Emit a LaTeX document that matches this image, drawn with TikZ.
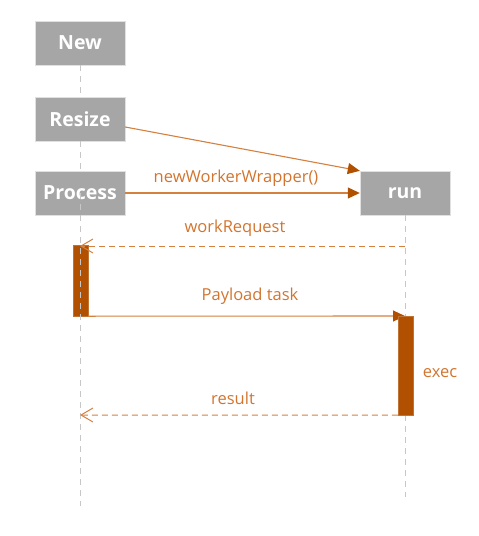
\documentclass[tikz,border=0pt]{standalone}
\usepackage{fontspec}
\setmainfont{Open Sans}
\usetikzlibrary{arrows.meta}
\definecolor{boxgrey}{HTML}{A6A6A6}
\definecolor{msgline}{HTML}{D4803F}
\definecolor{msgtext}{HTML}{D2742E}
\definecolor{actbar}{HTML}{B05000}
\begin{document}
\begin{tikzpicture}[x=1pt,y=-1pt]
        \tikzstyle{actor}=[fill=boxgrey,draw=black!12,text=white,font=\bfseries\fontsize{19.5}{22}\selectfont,minimum width=90pt,minimum height=44pt,inner sep=0pt]
        \tikzstyle{label}=[text=msgtext,font=\fontsize{16.5}{19}\selectfont,inner sep=0pt]
        \tikzstyle{life}=[draw=black!22,line width=1pt,dash pattern=on 6pt off 5pt]
        \tikzstyle{call}=[draw=msgline,line width=1.1pt,-{Triangle[length=12pt,width=11pt,color=actbar]}]
        \tikzstyle{reply}=[draw=msgline,line width=1pt,dash pattern=on 6pt off 4pt,-{Straight Barb[length=12pt,width=14pt]}]
        \tikzstyle{bar}=[fill=actbar,draw=actbar!80]
        \useasboundingbox (0,0) rectangle (479,536);
       \begin{scope}
         \node [actor] (new) at (80,43) {New};
         \node [actor] (resize) at (80,119) {Resize};
         \node [actor] (process) at (80,193) {Process};
         \node [actor] (run) at (405,193) {run};
         % lifelines
         \path[life] (new.south) -- (resize.north);
         \path[life] (resize.south) -- (process.north);
         \path[life] (run.south) -- (405,316);
         \path[life] (405,415) -- (405,497);
         % activations
         \node [bar,minimum width=15pt,minimum height=71pt,inner sep=0pt] (waitbar) at (80.5,280.5) {};
         \node [bar,minimum width=15pt,minimum height=99pt,inner sep=0pt] (execbar) at (405.5,365.5) {};
         \path[life] (process.center) -- (80,506);
         \coordinate (reqfrom) at (405,246);
         \coordinate (reqto) at (80,246);
         \coordinate (taskto) at (405,316);
         \coordinate (resto) at (80,415);
         % messages
         \path[call] ([yshift=-8pt]resize.east) -- (run.north west);
         \path[call] (process.east) -- (run.west);
         \path[reply] (reqfrom) -- (reqto);
         \path[call] (waitbar.south east) -- (taskto);
         \node [bar,minimum width=15pt,minimum height=99pt,inner sep=0pt] at (execbar) {};
         \path[reply] (execbar.south west) -- (resto);
         \node [label] (l1) at (236,178) {newWorkerWrapper()};
         \node [label] (l2) at (235,228) {workRequest};
         \node [label] (l3) at (250,296) {Payload task};
         \node [label] (l4) at (440,373) {exec};
         \node [label] (l5) at (233,398) {result};
        \end{scope}
      \end{tikzpicture}
\end{document}
